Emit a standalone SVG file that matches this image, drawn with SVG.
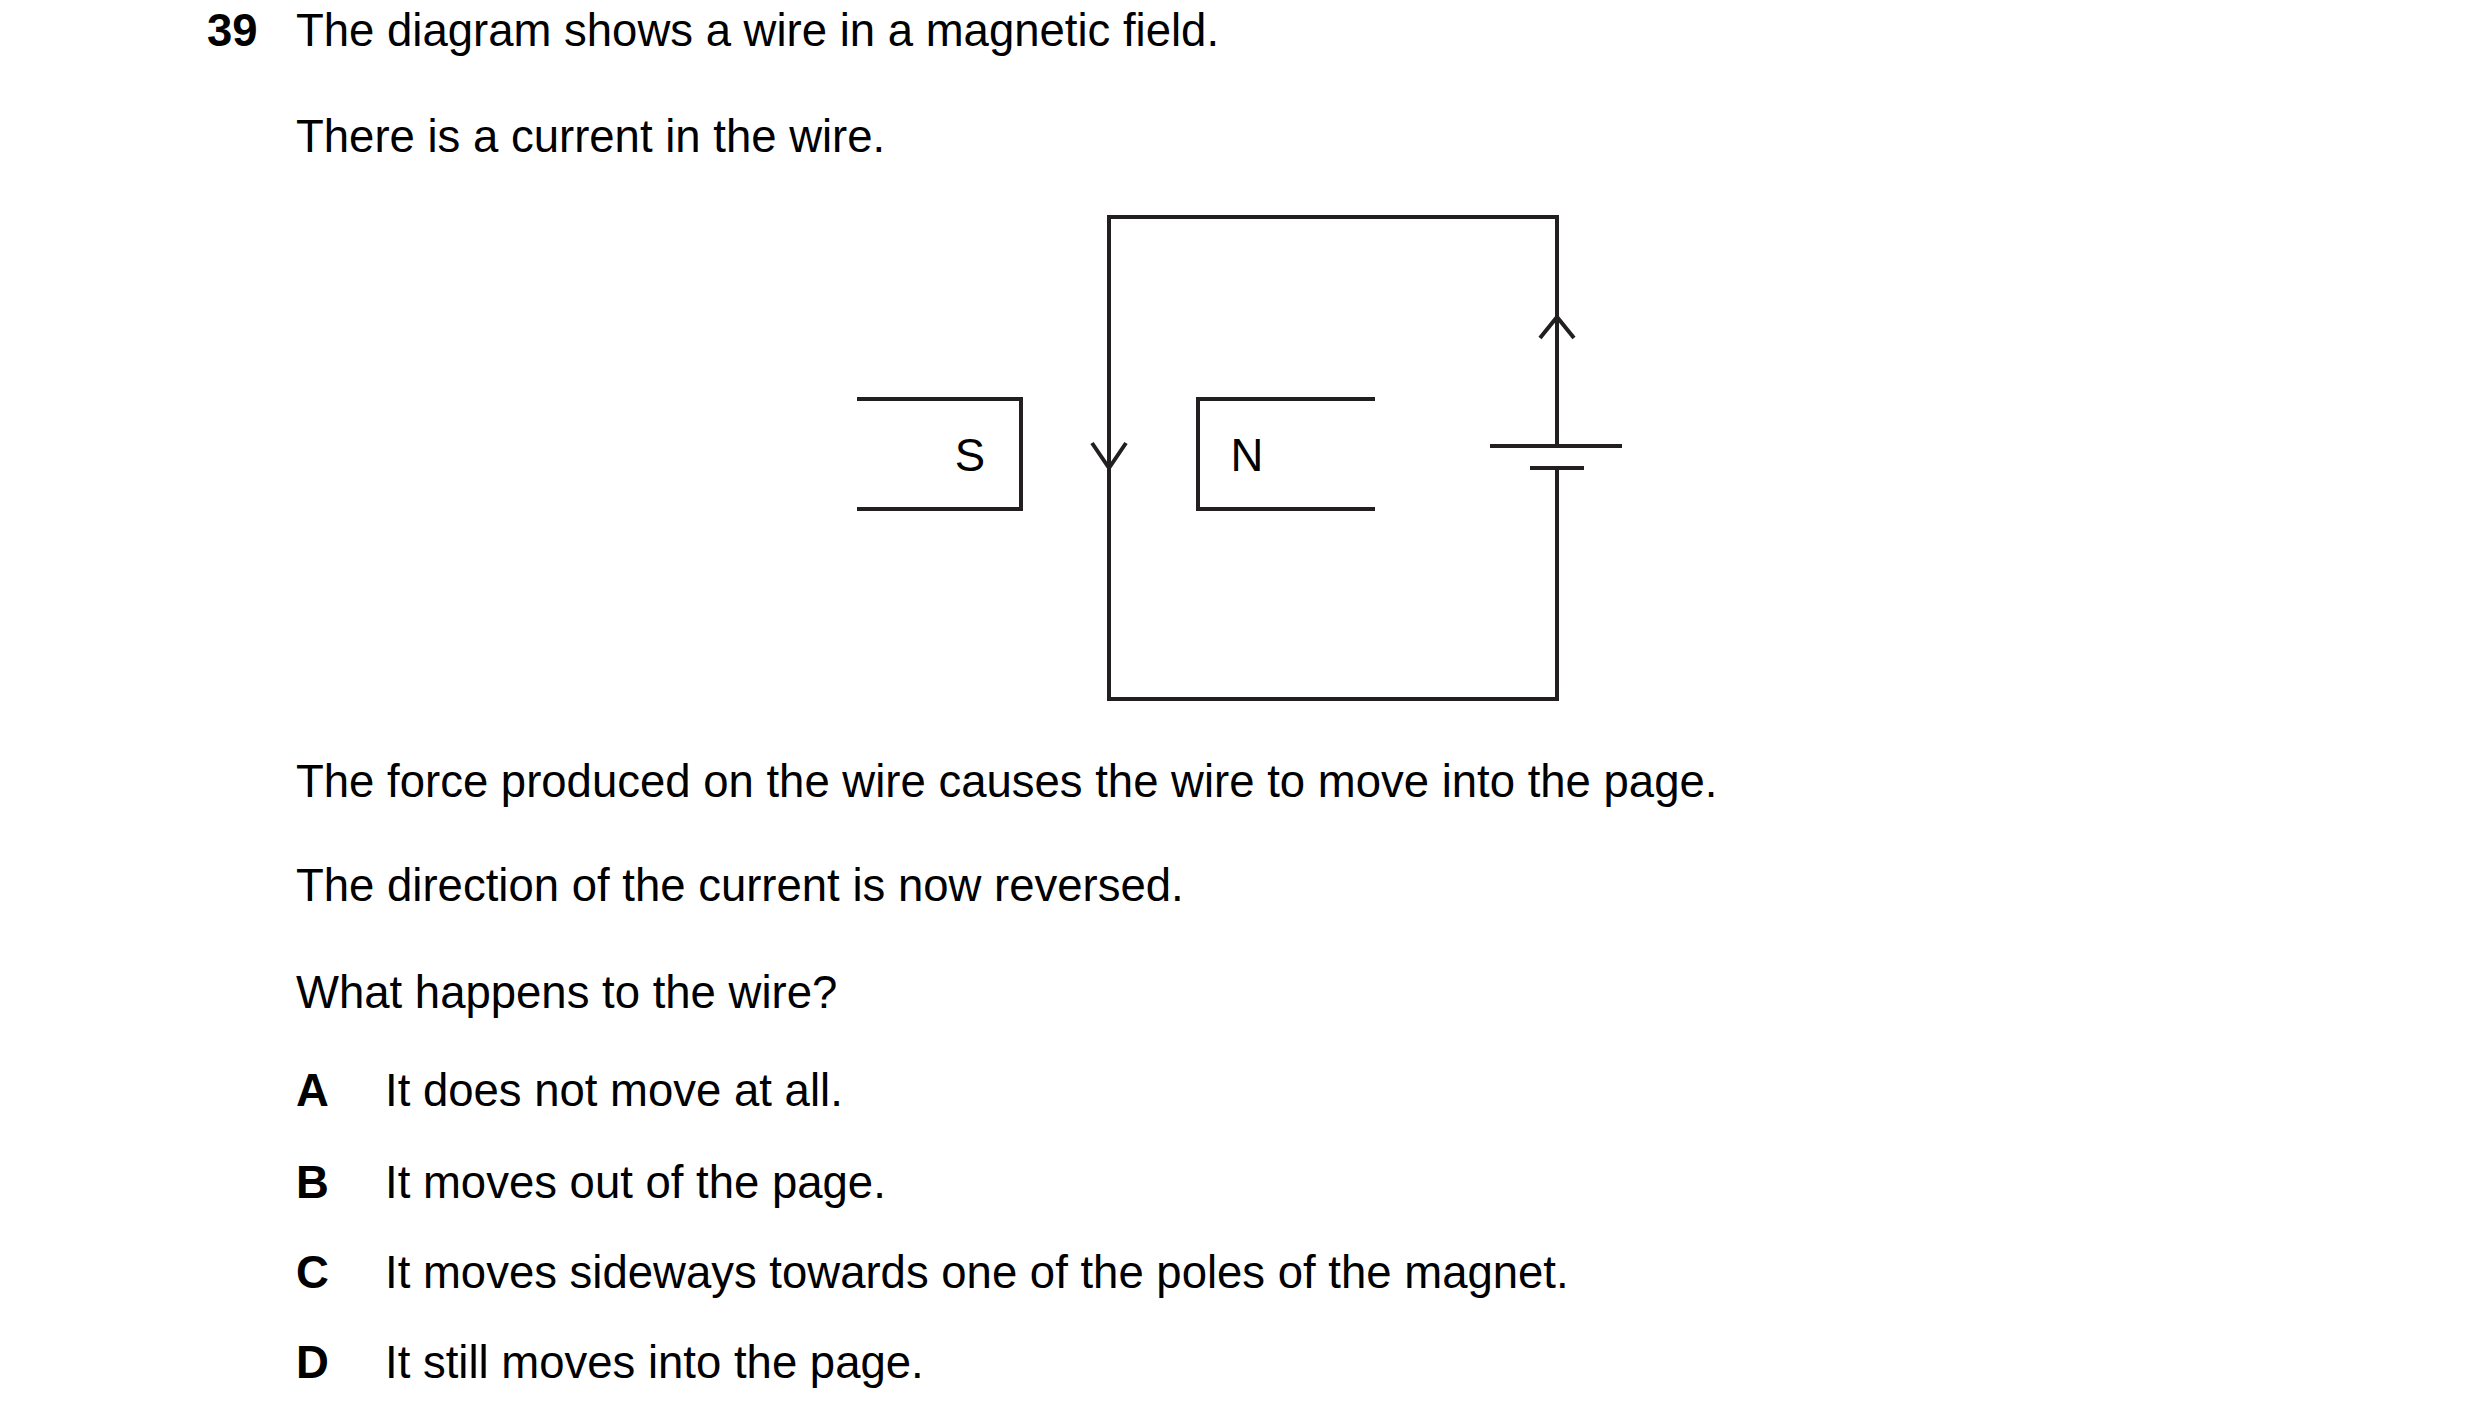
<svg xmlns="http://www.w3.org/2000/svg" width="2480" height="1426" viewBox="0 0 2480 1426">
<style>
text{font-family:"Liberation Sans",Arial,sans-serif;font-size:45.5px;fill:#000}
.b{font-weight:bold}
.w{fill:none;stroke:#231f20;stroke-width:4}
</style>
<rect width="2480" height="1426" fill="#fff"/>
<text x="207" y="46" class="b">39</text>
<text x="296" y="46">The diagram shows a wire in a magnetic field.</text>
<text x="296" y="152">There is a current in the wire.</text>
<g id="magnetS"><polyline class="w" points="857,399 1021,399 1021,509 857,509"/><text x="970" y="471" text-anchor="middle">S</text></g>
<g id="magnetN"><polyline class="w" points="1375,399 1198,399 1198,509 1375,509"/><text x="1247" y="471" text-anchor="middle">N</text></g>
<g id="battery"><line class="w" x1="1490" y1="446" x2="1622" y2="446"/><line class="w" x1="1530" y1="468" x2="1584" y2="468"/></g>
<g id="connectors">
<polyline class="w" points="1557,446 1557,217 1109,217 1109,699 1557,699 1557,468"/>
<polyline class="w" points="1092,443 1109,468 1126,443"/>
<polyline class="w" points="1540,338 1557,317 1574,338"/>
</g>
<text x="296" y="797">The force produced on the wire causes the wire to move into the page.</text>
<text x="296" y="901">The direction of the current is now reversed.</text>
<text x="296" y="1008">What happens to the wire?</text>
<text x="296" y="1106" class="b">A</text><text x="385" y="1106">It does not move at all.</text>
<text x="296" y="1198" class="b">B</text><text x="385" y="1198">It moves out of the page.</text>
<text x="296" y="1288" class="b">C</text><text x="385" y="1288">It moves sideways towards one of the poles of the magnet.</text>
<text x="296" y="1378" class="b">D</text><text x="385" y="1378">It still moves into the page.</text>
</svg>
